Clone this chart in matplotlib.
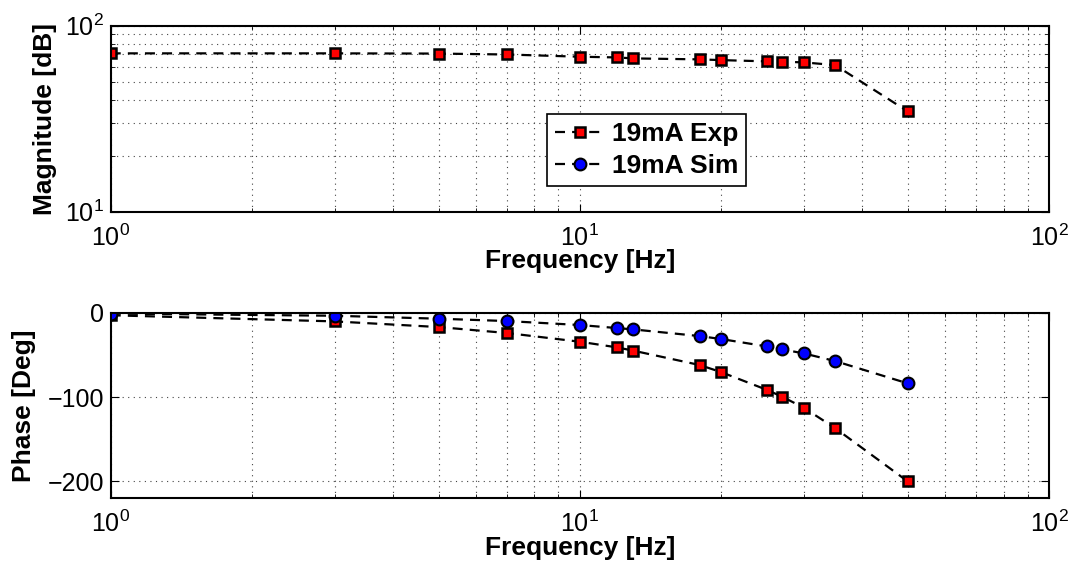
import matplotlib
matplotlib.use("Agg")
import matplotlib.pyplot as plt
from matplotlib.lines import Line2D
from matplotlib.ticker import LogLocator, NullFormatter, FixedLocator

plt.rcParams['font.family'] = ['Liberation Sans', 'DejaVu Sans']
plt.rcParams['mathtext.fontset'] = 'custom'
plt.rcParams['mathtext.rm'] = 'Liberation Sans'
plt.rcParams['mathtext.it'] = 'Liberation Sans:italic'
plt.rcParams['mathtext.bf'] = 'Liberation Sans:bold'
plt.rcParams['mathtext.default'] = 'regular'

freq = [1, 3, 5, 7, 10, 12, 13, 18, 20, 25, 27, 30, 35, 50]
mag_exp = [71.0, 71.0, 70.8, 70.0, 68.1, 67.5, 66.7, 65.9, 65.3, 64.3, 64.0, 63.5, 61.4, 34.6]
phase_exp = [-3.0, -10.3, -17.0, -24.1, -34.4, -41.1, -45.0, -62.0, -70.4, -91.3, -99.6, -112.6, -136.8, -200.0]
phase_sim = [-1.0, -3.6, -7.1, -9.9, -14.6, -18.2, -19.8, -27.7, -31.2, -39.9, -43.5, -48.2, -57.3, -83.8]

labels = ['19mA Exp', '19mA Sim']

fig = plt.figure(figsize=(10.75, 5.76), dpi=100)
ax1 = fig.add_axes([0.103, 0.6325, 0.8728, 0.3229])
ax2 = fig.add_axes([0.103, 0.1349, 0.8728, 0.3222])

exp_style = dict(linestyle='--', color='black', linewidth=1.6, dashes=(4.5, 3.2),
                 marker='s', markersize=7, markerfacecolor='red',
                 markeredgecolor='black', markeredgewidth=1.8)
sim_style = dict(linestyle='--', color='black', linewidth=1.6, dashes=(4.5, 3.2),
                 marker='o', markersize=8.5, markerfacecolor='blue',
                 markeredgecolor='black', markeredgewidth=1.5)

ax1.plot(freq, mag_exp, **exp_style)
ax1.set_xscale('log')
ax1.set_yscale('log')
ax1.set_xlim(1, 100)
ax1.set_ylim(10, 100)

ax2.plot(freq, phase_exp, **exp_style)
ax2.plot(freq, phase_sim, **sim_style)
ax2.set_xscale('log')
ax2.set_xlim(1, 100)
ax2.set_ylim(-220, 0)
ax2.yaxis.set_major_locator(FixedLocator([-200, -100, 0]))

for ax in (ax1, ax2):
    ax.xaxis.set_minor_locator(LogLocator(base=10, subs=range(2, 10), numticks=20))
    ax.xaxis.set_minor_formatter(NullFormatter())
    ax.grid(True, which='major', linestyle=(0, (1, 4)), color='#444444', linewidth=0.8)
    ax.grid(True, which='minor', axis='x', linestyle=(0, (1, 4)), color='#444444', linewidth=0.8)
    ax.tick_params(which='both', direction='in', top=True, right=True, labelsize=18)
    ax.tick_params(axis='x', which='both', pad=9)
    ax.tick_params(axis='y', which='both', pad=5)
    ax.tick_params(which='major', length=6)
    ax.tick_params(which='minor', length=3)
    for sp in ax.spines.values():
        sp.set_linewidth(1.5)
    ax.set_xlabel('Frequency [Hz]', fontsize=19, fontweight='bold', labelpad=-1)

ax1.yaxis.set_minor_locator(LogLocator(base=10, subs=range(2, 10), numticks=20))
ax1.yaxis.set_minor_formatter(NullFormatter())
ax1.grid(True, which='minor', axis='y', linestyle=(0, (1, 4)), color='#444444', linewidth=0.8)

ax1.set_ylabel('Magnitude [dB]', fontsize=19, fontweight='bold', labelpad=6)
ax2.set_ylabel('Phase [Deg]', fontsize=19, fontweight='bold', labelpad=8)

handles = [Line2D([], [], **exp_style), Line2D([], [], **sim_style)]
leg = ax1.legend(handles, labels, loc='lower left', bbox_to_anchor=(0.465, 0.138),
                 prop={'weight': 'bold', 'size': 19}, fancybox=False, framealpha=1,
                 edgecolor='black', handlelength=1.9, borderpad=0.3, labelspacing=0.3,
                 handletextpad=0.25, borderaxespad=0)
leg.get_frame().set_linewidth(1.2)

fig.savefig('out.png', dpi=100)
